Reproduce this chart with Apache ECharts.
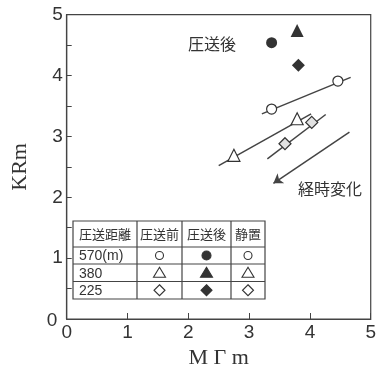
<!DOCTYPE html>
<html><head><meta charset="utf-8">
<script src="https://cdn.jsdelivr.net/npm/echarts@6/dist/echarts.min.js"></script>
<style>html,body{margin:0;padding:0;background:#fff}#c{width:379px;height:374px}</style>
</head><body><div id="c"></div>
<script>
// data
const xTicks = [0,1,2,3,4,5];
const yTicks = [0,1,2,3,4,5];
const after570 = [[3.37,4.54]];
const after380 = [[3.79,4.74]];
const after225 = [[3.81,4.17]];
const rest570 = [[3.37,3.45],[4.46,3.91]];
const rest380 = [[2.75,2.69],[3.79,3.29]];
const rest225 = [[3.59,2.88],[4.03,3.23]];
const line570 = [[3.21,3.37],[4.67,3.97]];
const line380 = [[2.50,2.52],[4.02,3.37]];
const line225 = [[3.30,2.63],[4.26,3.36]];
const arrowLine = [[4.65,3.07],[3.40,2.23]];
const tableHeader = ['圧送距離','圧送前','圧送後','静置'];
const tableRows = ['570(m)','380','225'];

const ink = '#333';
const chart = echarts.init(document.getElementById('c'));
const T = ink;
function seg(d){return {type:'lines',coordinateSystem:'cartesian2d',z:2,silent:true,
  lineStyle:{color:'#444',width:1.5,opacity:1},data:[{coords:d}]};}
function sc(d,sym,size,fill){return {type:'scatter',z:5,data:d,symbol:sym,symbolSize:size,
  itemStyle:{color:fill,borderColor:ink,borderWidth:fill==='#fff'||fill==='#e2e2e2'?1.2:0,opacity:1}};}

// table geometry (legend)
const cols=[73,137,182,231,265], rows=[221,247,264,281.5,299];
const g=[];
g.push({type:'rect',shape:{x:cols[0],y:rows[0],width:cols[4]-cols[0],height:rows[4]-rows[0]},style:{fill:'#fff',stroke:'#444',lineWidth:1.2},z:10});
for(let i=1;i<4;i++) g.push({type:'line',shape:{x1:cols[i],y1:rows[0],x2:cols[i],y2:rows[4]},style:{stroke:'#444',lineWidth:1.2},z:11});
for(let j=1;j<4;j++) g.push({type:'line',shape:{x1:cols[0],y1:rows[j],x2:cols[4],y2:rows[j]},style:{stroke:'#444',lineWidth:1.2},z:11});
tableHeader.forEach((t,i)=>g.push({type:'text',x:(cols[i]+cols[i+1])/2,y:(rows[0]+rows[1])/2,z:12,
  style:{text:t,fill:T,font:'13px "Noto Sans CJK JP"',align:'center',verticalAlign:'middle'}}));
tableRows.forEach((t,j)=>g.push({type:'text',x:79,y:(rows[j+1]+rows[j+2])/2+1,z:12,
  style:{text:t,fill:T,font:'14px "Liberation Sans"',align:'left',verticalAlign:'middle'}}));
function sym(kind,cx,cy,filled){
  const st={fill:filled?ink:'#fff',stroke:ink,lineWidth:1.1};
  if(kind===0) return {type:'circle',shape:{cx:cx,cy:cy,r:filled?4.5:4},style:st,z:12};
  if(kind===1) return {type:'polygon',shape:{points:[[cx,cy-5.5],[cx+6,cy+4.5],[cx-6,cy+4.5]]},style:st,z:12};
  return {type:'polygon',shape:{points:[[cx,cy-5.5],[cx+5.5,cy],[cx,cy+5.5],[cx-5.5,cy]]},style:st,z:12};
}
for(let j=0;j<3;j++){
  const cy=(rows[j+1]+rows[j+2])/2;
  g.push(sym(j,(cols[1]+cols[2])/2,cy,false));
  g.push(sym(j,(cols[2]+cols[3])/2,cy,true));
  g.push(sym(j,(cols[3]+cols[4])/2,cy,false));
}
g.push({type:'text',x:212,y:44,z:12,style:{text:'圧送後',fill:T,font:'16px "Noto Sans CJK JP"',align:'center',verticalAlign:'middle'}});
g.push({type:'text',x:330,y:189,z:12,style:{text:'経時変化',fill:T,font:'16px "Noto Sans CJK JP"',align:'center',verticalAlign:'middle'}});
g.push({type:'text',x:52,y:321,z:12,style:{text:'0',fill:T,font:'19px "Liberation Sans"',align:'center',verticalAlign:'middle'}});

chart.setOption({
  animation:false,
  grid:{left:66.7,right:6.3,top:14.7,bottom:51.3,show:true,borderColor:'#444',borderWidth:1.2,backgroundColor:'#fff'},
  xAxis:{type:'value',min:0,max:5,interval:1,name:'M Γ m',nameLocation:'middle',nameGap:28,
    nameTextStyle:{fontFamily:'Liberation Serif',fontSize:22,color:T},
    axisLine:{lineStyle:{color:'#444',width:1.2}},axisTick:{inside:true,length:6,lineStyle:{color:'#444'}},
    axisLabel:{color:T,fontSize:19,fontFamily:'Liberation Sans',margin:4,showMaxLabel:true},splitLine:{show:false}},
  yAxis:{type:'value',min:0,max:5,interval:0.5,name:'KRm',nameLocation:'middle',nameGap:35,
    nameTextStyle:{fontFamily:'Liberation Serif',fontSize:22,color:T},
    axisLine:{lineStyle:{color:'#444',width:1.2}},axisTick:{inside:true,length:5,lineStyle:{color:'#444'}},
    axisLabel:{color:T,fontSize:19,fontFamily:'Liberation Sans',margin:4,
      formatter:v=>(yTicks.includes(v)&&v!==0)?String(v):''},splitLine:{show:false}},
  series:[
    seg(line570),seg(line380),seg(line225),
    {type:'lines',coordinateSystem:'cartesian2d',z:2,silent:true,symbol:['none','arrow'],symbolSize:9,
      lineStyle:{color:'#444',width:1.5,opacity:1},data:[{coords:arrowLine}]},
    sc(after570,'circle',11,ink),sc(after380,'triangle',13,ink),sc(after225,'diamond',13,ink),
    sc(rest570,'circle',10,'#fff'),sc(rest380,'triangle',12,'#fff'),sc(rest225,'diamond',12,'#e2e2e2')
  ],
  graphic:g
});
</script></body></html>
